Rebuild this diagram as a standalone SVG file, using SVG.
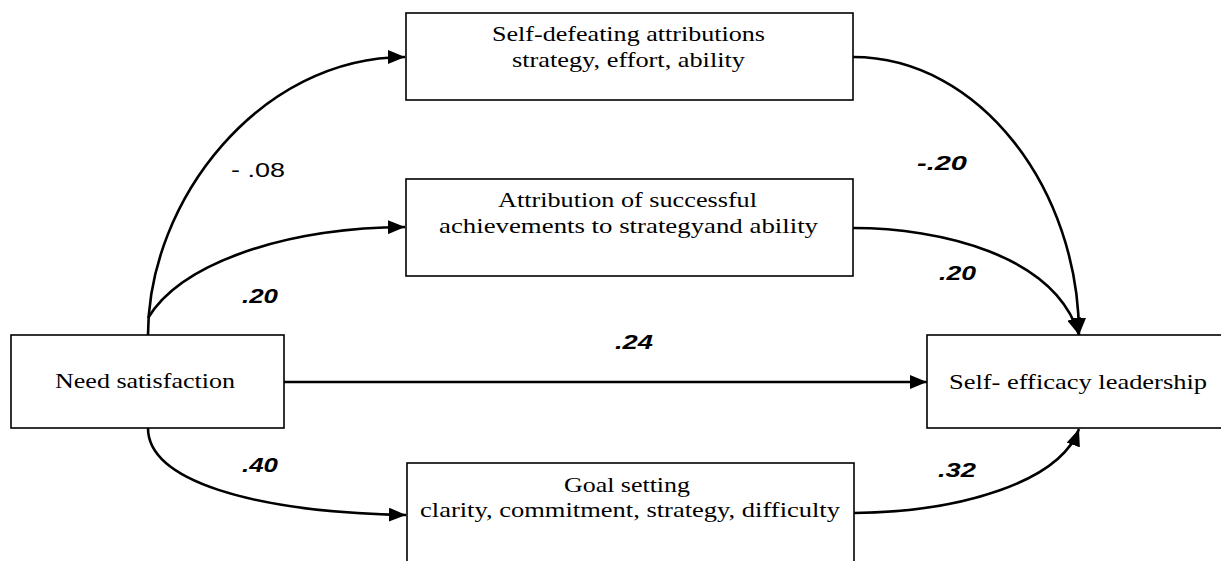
<svg xmlns="http://www.w3.org/2000/svg" width="1221" height="561" viewBox="0 0 1221 561">
<style>
.box{fill:#fff;stroke:#000;stroke-width:1.6}
.t{font-family:"Liberation Serif","Times New Roman",serif;font-size:21px;fill:#000}
.lab{font-family:"Liberation Sans",Arial,sans-serif;font-size:20px;font-weight:bold;font-style:italic;fill:#000}
.labr{font-family:"Liberation Sans",Arial,sans-serif;font-size:20px;fill:#000}
.c{fill:none;stroke:#000;stroke-width:2.6}
</style>
<defs>
<marker id="ah" markerUnits="userSpaceOnUse" markerWidth="18" markerHeight="14" refX="17" refY="7" orient="auto">
<path d="M0,0 L17,7 L0,14 Z" fill="#000"/>
</marker>
</defs>
<rect width="1221" height="561" fill="#fff"/>
<g id="connectors">
<path class="c" d="M148,335 C148,200 260,57 405,57" marker-end="url(#ah)"/>
<path class="c" d="M148,318 C180,265 280,228 405,227" marker-end="url(#ah)"/>
<path class="c" d="M853,57 C980,57 1079,190 1079,335" marker-end="url(#ah)"/>
<path class="c" d="M853,228 C940,228 1055,255 1079,335" marker-end="url(#ah)"/>
<path class="c" d="M284,382 L927,382" marker-end="url(#ah)"/>
<path class="c" d="M148,428 C148,480 250,512 406,515" marker-end="url(#ah)"/>
<path class="c" d="M854,513 C960,512 1060,482 1079,429" marker-end="url(#ah)"/>
</g>
<g id="n-selfdefeating">
<rect class="box" x="406" y="13" width="447" height="87"/>
<text class="t" x="492" y="41" textLength="273" lengthAdjust="spacingAndGlyphs">Self-defeating attributions</text>
<text class="t" x="512" y="67" textLength="233" lengthAdjust="spacingAndGlyphs">strategy, effort, ability</text>
</g>
<g id="n-attribution">
<rect class="box" x="406" y="179" width="447" height="97"/>
<text class="t" x="498" y="207" textLength="259" lengthAdjust="spacingAndGlyphs">Attribution of successful</text>
<text class="t" x="439" y="233" textLength="379" lengthAdjust="spacingAndGlyphs">achievements to strategyand ability</text>
</g>
<g id="n-need">
<rect class="box" x="11" y="335" width="273" height="93"/>
<text class="t" x="55" y="388" textLength="180" lengthAdjust="spacingAndGlyphs">Need satisfaction</text>
</g>
<g id="n-selfefficacy">
<rect class="box" x="927" y="335" width="320" height="93"/>
<text class="t" x="949" y="389" textLength="258" lengthAdjust="spacingAndGlyphs">Self- efficacy leadership</text>
</g>
<g id="n-goal">
<rect class="box" x="407" y="463" width="447" height="120"/>
<text class="t" x="564" y="492" textLength="126" lengthAdjust="spacingAndGlyphs">Goal setting</text>
<text class="t" x="420" y="517" textLength="420" lengthAdjust="spacingAndGlyphs">clarity, commitment, strategy, difficulty</text>
</g>
<g id="labels">
<text class="labr" x="231" y="177" textLength="54" lengthAdjust="spacingAndGlyphs">- .08</text>
<text class="lab" x="242" y="303" textLength="36" lengthAdjust="spacingAndGlyphs">.20</text>
<text class="lab" x="917" y="170" textLength="50" lengthAdjust="spacingAndGlyphs">-.20</text>
<text class="lab" x="939" y="280" textLength="37" lengthAdjust="spacingAndGlyphs">.20</text>
<text class="lab" x="615" y="349" textLength="38" lengthAdjust="spacingAndGlyphs">.24</text>
<text class="lab" x="242" y="472" textLength="36" lengthAdjust="spacingAndGlyphs">.40</text>
<text class="lab" x="938" y="477" textLength="38" lengthAdjust="spacingAndGlyphs">.32</text>
</g>
</svg>
